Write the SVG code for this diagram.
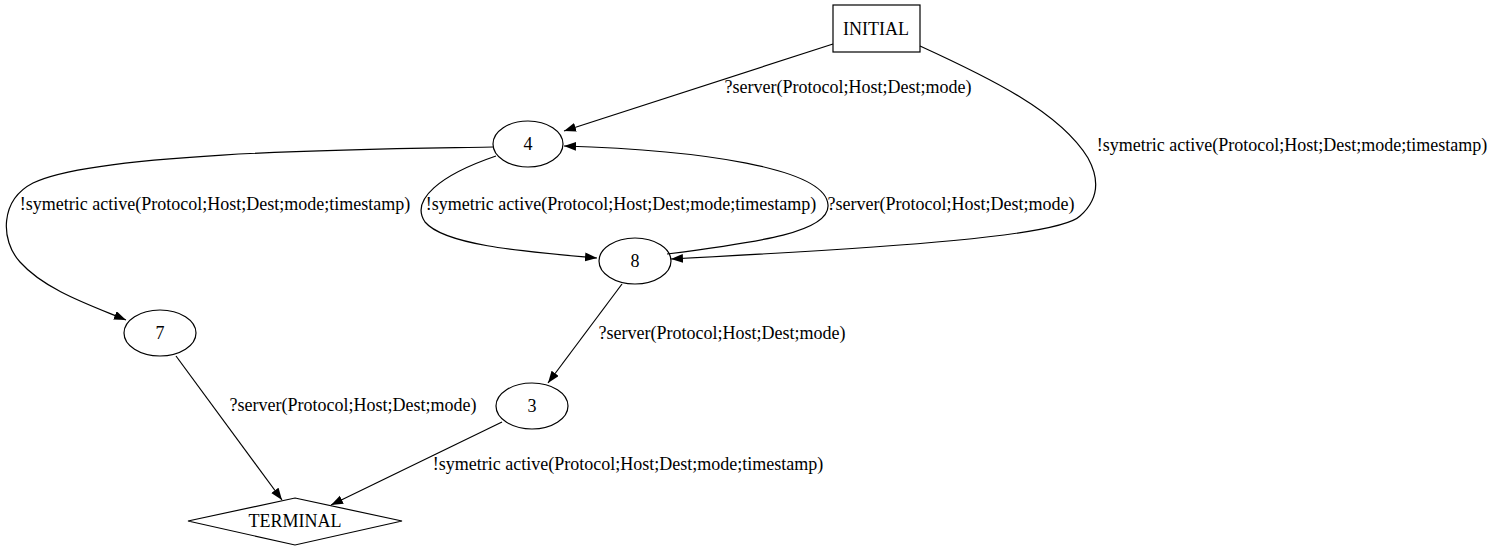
<svg xmlns="http://www.w3.org/2000/svg" width="1495" height="551" viewBox="0 0 1495 551">
<style>
.n{fill:none;stroke:#000;stroke-width:1.2}
.e{fill:none;stroke:#000;stroke-width:1.2}
text{font-family:"Liberation Serif","Times New Roman",serif;font-size:18px;fill:#000;text-anchor:middle}
</style>
<defs>
<marker id="ah" markerUnits="userSpaceOnUse" markerWidth="13" markerHeight="10" refX="12" refY="4.5" orient="auto">
<path d="M0,0 L12,4.5 L0,9 z" fill="#000"/>
</marker>
</defs>
<rect width="1495" height="551" fill="#fff"/>
<g id="connectors">
<path class="e" d="M833,44 L564,131" marker-end="url(#ah)"/>
<text x="848" y="93">?server(Protocol;Host;Dest;mode)</text>
<path class="e" d="M920,46 C990,78 1060,112 1088,158 C1100,180 1098,200 1080,216 C1060,236 900,247 671,259" marker-end="url(#ah)"/>
<text x="1292" y="151">!symetric active(Protocol;Host;Dest;mode;timestamp)</text>
<path class="e" d="M493,147 C400,149 100,150 33,183 C0,200 0,240 20,262 C45,290 90,305 126,320" marker-end="url(#ah)"/>
<text x="215" y="210">!symetric active(Protocol;Host;Dest;mode;timestamp)</text>
<path class="e" d="M496,156 C440,175 410,200 425,222 C445,246 530,252 597,258" marker-end="url(#ah)"/>
<text x="621" y="210">!symetric active(Protocol;Host;Dest;mode;timestamp)</text>
<path class="e" d="M667,254 C760,242 830,232 828,205 C826,168 700,150 564,146" marker-end="url(#ah)"/>
<text x="951" y="210">?server(Protocol;Host;Dest;mode)</text>
<path class="e" d="M622,284 L548,383" marker-end="url(#ah)"/>
<text x="722" y="339">?server(Protocol;Host;Dest;mode)</text>
<path class="e" d="M176,356 L282,500" marker-end="url(#ah)"/>
<text x="353" y="411">?server(Protocol;Host;Dest;mode)</text>
<path class="e" d="M502,422 L331,505" marker-end="url(#ah)"/>
<text x="628" y="470">!symetric active(Protocol;Host;Dest;mode;timestamp)</text>
</g>
<g id="node-INITIAL">
<rect class="n" x="833" y="5" width="87" height="47"/>
<text x="876" y="35">INITIAL</text>
</g>
<g id="node-4">
<ellipse class="n" cx="528" cy="144" rx="35" ry="23"/>
<text x="528" y="150">4</text>
</g>
<g id="node-8">
<ellipse class="n" cx="635" cy="261" rx="36" ry="23"/>
<text x="635" y="267">8</text>
</g>
<g id="node-7">
<ellipse class="n" cx="160" cy="333" rx="36" ry="23"/>
<text x="160" y="339">7</text>
</g>
<g id="node-3">
<ellipse class="n" cx="532" cy="406" rx="36" ry="23"/>
<text x="532" y="412">3</text>
</g>
<g id="node-TERMINAL">
<polygon class="n" points="295,498 402,521 295,545 188,521"/>
<text x="295" y="527">TERMINAL</text>
</g>
</svg>
